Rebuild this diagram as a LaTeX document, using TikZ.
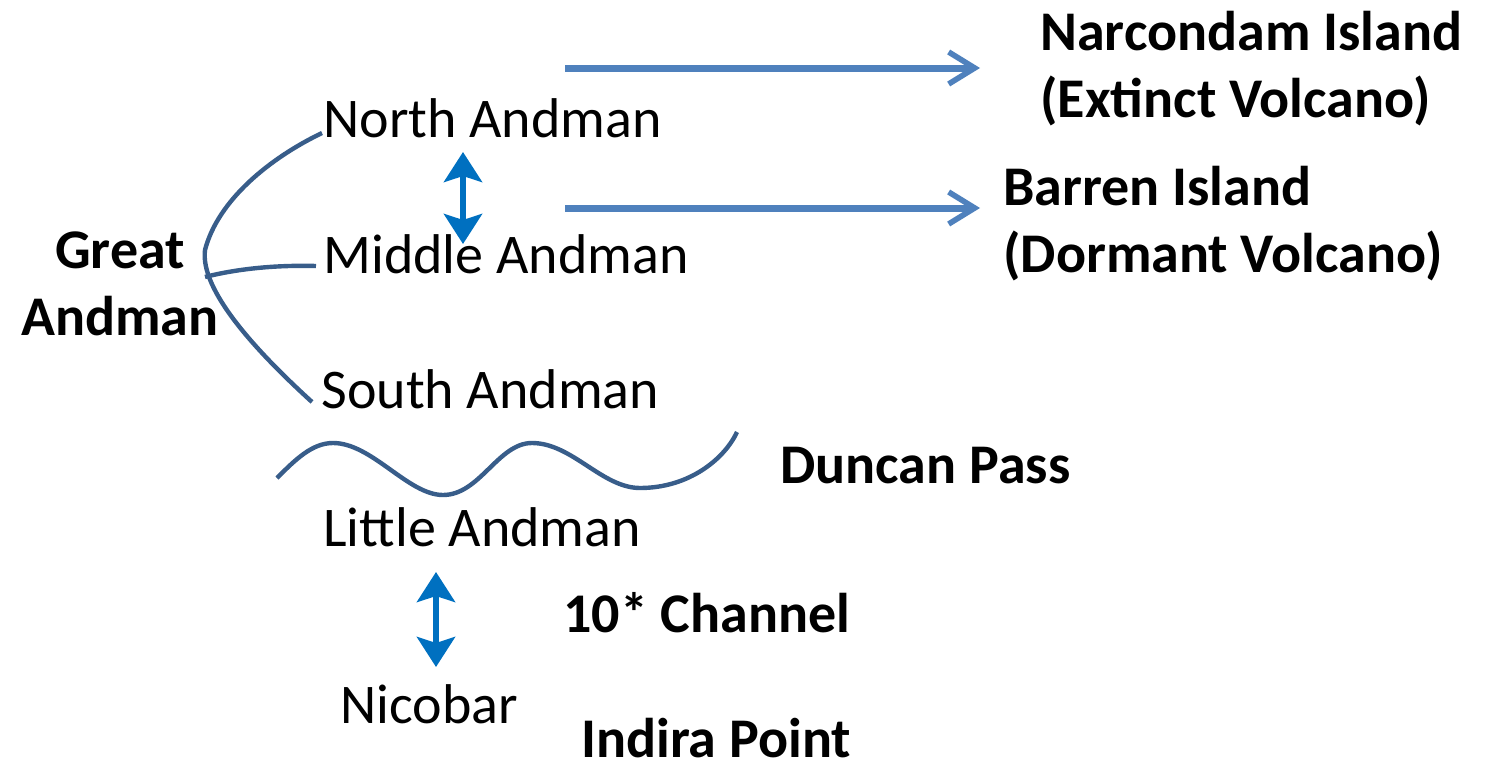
\documentclass[tikz,border=0pt]{standalone}
\usepackage{fontspec}
\setmainfont{Carlito}
\usetikzlibrary{arrows.meta}

\definecolor{linkblue}{HTML}{4F81BD}
\definecolor{passblue}{HTML}{0070C0}
\definecolor{seablue}{HTML}{385D8A}

\begin{document}
\begin{tikzpicture}[x=0.5pt,y=-0.5pt,
    isle/.style={font=\fontsize{28}{33.5}\selectfont, inner sep=0pt, anchor=base west},
    spot/.style={isle, font=\fontsize{28}{33.5}\selectfont\bfseries, align=left},
    volc/.style={linkblue, line width=3.5pt, -{Straight Barb[length=13pt,width=16pt,line width=2.8pt]}},
    pass/.style={passblue, line width=3pt, {Stealth[length=15pt,width=19pt,inset=3pt]}-{Stealth[length=15pt,width=19pt,inset=3pt]}},
    coast/.style={seablue, line width=2.2pt}]

    \useasboundingbox (0,0) rectangle (1496,771);

    % islands of the chain
    \node[isle] (north)  at (323,137) {North Andman};
    \node[isle] (middle) at (323,273) {Middle Andman};
    \node[isle] (south)  at (321,408) {South Andman};
    \node[isle] (little) at (323,546) {Little Andman};
    \node[isle] (nicobar) at (340,723) {Nicobar};
    \node[spot, align=center, anchor=base] (great) at (120,335) {Great\\Andman};

    % volcanoes and passages
    \node[spot] (narcondam) at (1040,117) {Narcondam Island\\(Extinct Volcano)};
    \node[spot] (barren) at (1003,272) {Barren Island\\(Dormant Volcano)};
    \node[spot] (duncan) at (780,483) {Duncan Pass};
    \node[spot] (channel) at (563,632) {10* Channel};
    \node[spot] (indira) at (581,757) {Indira Point};

    % Great Andman brace
    \draw[coast] ([shift={(-1,-4)}]north.base west) .. controls (270,158) and (218,200) .. (205,250)
        .. controls (200,290) and (255,350) .. ([shift={(-9,-6)}]south.base west);
    \draw[coast] (205,277) .. controls (240,268) and (280,265) .. ([shift={(-7,-7)}]middle.base west);

    % Duncan Pass wave
    \draw[coast] (277,478) .. controls (295,460) and (312,443) .. (333,443)
        .. controls (372,443) and (408,495) .. (443,495)
        .. controls (480,495) and (498,443) .. (532,443)
        .. controls (572,443) and (602,488) .. (640,488)
        .. controls (690,488) and (725,458) .. (737,432);

    % arrows
    \coordinate (v1) at (565,68);
    \coordinate (v2) at (565,208);
    \draw[volc] (v1) -- (v1 -| 980,0);
    \draw[volc] (v2) -- (v2 -| 980,0);

    \coordinate (p1) at (463,152);
    \coordinate (p2) at (463,244);
    \draw[pass] (p1) -- (p2);
    \coordinate (p3) at (436,572);
    \coordinate (p4) at (436,667);
    \draw[pass] (p3) -- (p4);

\end{tikzpicture}
\end{document}
